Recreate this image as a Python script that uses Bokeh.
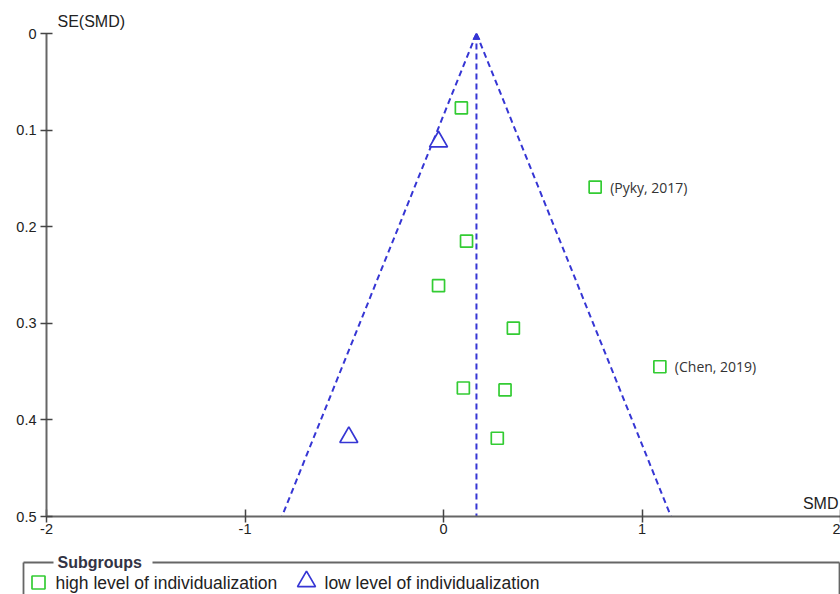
from bokeh.plotting import figure
from bokeh.models import Range1d, FixedTicker, Label, ColumnDataSource
from bokeh.layouts import column, row
from bokeh.core.properties import value
from bokeh.embed import file_html
from bokeh.resources import INLINE

# ---- data ----
smd_high = [0.09, 0.764, 0.116, -0.025, 0.352, 1.09, 0.10, 0.31, 0.271]
se_high = [0.077, 0.159, 0.215, 0.261, 0.305, 0.345, 0.367, 0.369, 0.419]
labels_high = ["", "(Pyky, 2017)", "", "", "", "(Chen, 2019)", "", "", ""]
smd_low = [-0.025, -0.477]
se_low = [0.112, 0.418]
pooled_smd = 0.166
se_max = 0.5
x_ticks = [-2, -1, 0, 1, 2]
x_tick_labels = ["-2", "-1", "0", "1", "2"]
y_ticks = [0, 0.1, 0.2, 0.3, 0.4, 0.5]
y_tick_labels = ["0", "0.1", "0.2", "0.3", "0.4", "0.5"]
legend_names = ["high level of individualization", "low level of individualization"]
legend_title = "Subgroups"

GREEN = "#33cc33"
BLUE = "#3636d4"
AXIS = "#666666"
FONT = "Liberation Sans"

p = figure(width=840, height=553, x_range=Range1d(-2, 2), y_range=Range1d(se_max, 0),
           output_backend="svg", toolbar_location=None,
           min_border_left=46, min_border_right=0, min_border_top=33, min_border_bottom=37)
p.outline_line_color = None
p.grid.visible = False
p.title.text = "SE(SMD)"
p.title.text_font = FONT
p.title.text_font_size = "16px"
p.title.text_font_style = "normal"
p.title.text_color = "#222222"
p.title.align = "left"
p.title.offset = 11
p.title.standoff = 7

p.xaxis.ticker = FixedTicker(ticks=x_ticks)
p.xaxis.major_label_overrides = {t: l for t, l in zip(x_ticks, x_tick_labels)}
p.yaxis.ticker = FixedTicker(ticks=y_ticks)
p.yaxis.major_label_overrides = {t: l for t, l in zip(y_ticks, y_tick_labels)}
for ax in (p.xaxis[0], p.yaxis[0]):
    ax.axis_line_color = AXIS
    ax.axis_line_width = 2
    ax.major_tick_line_color = "#444444"
    ax.major_tick_line_width = 1.5
    ax.minor_tick_line_color = None
    ax.major_label_text_font = FONT
    ax.major_label_text_font_size = "14.5px"
    ax.major_label_text_color = "#222222"
p.yaxis.major_tick_in = 6
p.yaxis.major_tick_out = 6
p.yaxis.major_label_standoff = 4
p.xaxis.major_tick_in = 7
p.xaxis.major_tick_out = 6
p.xaxis.major_label_standoff = 1

# funnel
z = 1.96
lo = pooled_smd - z * se_max
hi = pooled_smd + z * se_max
for xe in (lo, hi, pooled_smd):
    p.line([pooled_smd, xe], [0, se_max], line_color=BLUE, line_dash="6 4", line_width=2)
p.scatter([pooled_smd], [0.004], marker="triangle", size=7, color=BLUE)

src_h = ColumnDataSource(dict(x=smd_high, y=se_high, lab=labels_high))
p.scatter("x", "y", source=src_h, marker="square", size=12, fill_color="white",
          line_color=GREEN, line_width=1.7)
p.text("x", "y", text="lab", source=src_h, x_offset=15, text_baseline="middle",
       text_font=value("Open Sans"), text_font_size="14px", text_color="#333333")
p.scatter(smd_low, se_low, marker="triangle", size=18, fill_color="white",
          line_color=BLUE, line_width=1.7)

p.add_layout(Label(x=2, y=se_max, x_offset=-2, y_offset=13, text="SMD", text_align="right",
                   text_baseline="middle", text_font=FONT, text_font_size="16px",
                   text_color="#222222"))

# legend panel
lg = figure(width=840, height=41, x_range=Range1d(0, 840), y_range=Range1d(41, 0),
            output_backend="svg", toolbar_location=None,
            min_border_left=0, min_border_right=0, min_border_top=0, min_border_bottom=0,
            x_axis_type=None, y_axis_type=None)
lg.outline_line_color = None
lg.grid.visible = False
lg.segment(x0=[23, 23, 152, 839], y0=[9, 9, 9, 9], x1=[23, 53, 839, 839], y1=[45, 9, 9, 45],
           line_color=AXIS, line_width=1.8)
lg.text([57], [9], text=[legend_title], text_baseline="middle", text_font=value(FONT),
        text_font_size="16px", text_font_style="bold", text_color="#333344")
lg.scatter([38], [29], marker="square", size=13, fill_color="white", line_color=GREEN, line_width=1.7)
lg.scatter([306], [28], marker="triangle", size=18, fill_color="white", line_color=BLUE, line_width=1.7)
lg.text([55, 324], [29, 29], text=legend_names, text_baseline="middle", text_font=value(FONT),
        text_font_size="17.5px", text_color="#222222")

layout = column(p, row(lg), spacing=0)
open("out.html", "w").write(file_html(layout, INLINE))
